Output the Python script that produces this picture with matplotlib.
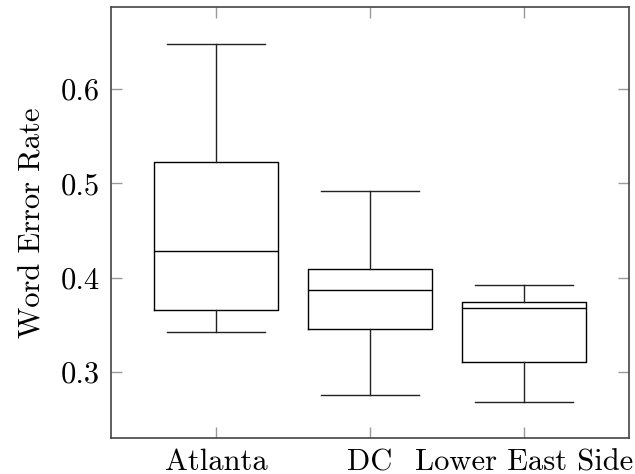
import matplotlib
matplotlib.use("Agg")
import matplotlib.pyplot as plt

plt.rcParams['font.family'] = ['cmr10', 'DejaVu Serif']
plt.rcParams['axes.formatter.use_mathtext'] = True
plt.rcParams['mathtext.fontset'] = 'cm'

categories = ["Atlanta", "DC", "Lower East Side"]
whisker_low = [0.342, 0.2755, 0.2684]
q1 = [0.366, 0.346, 0.3105]
median = [0.428, 0.3865, 0.368]
q3 = [0.523, 0.4095, 0.3738]
whisker_high = [0.648, 0.492, 0.3925]

stats = []
for i, name in enumerate(categories):
    stats.append(dict(label=name, whislo=whisker_low[i], q1=q1[i], med=median[i],
                      q3=q3[i], whishi=whisker_high[i], fliers=[]))

fig = plt.figure(figsize=(6.35, 4.74), dpi=100)
ax = fig.add_axes([0.1748, 0.0766, 0.9906 - 0.1748, 0.9852 - 0.0766])

lw = 1.0
ax.bxp(stats, positions=[1, 2, 3], widths=0.8, capwidths=0.64, showfliers=False,
       boxprops=dict(color='black', linewidth=lw),
       whiskerprops=dict(color='#222222', linewidth=lw),
       capprops=dict(color='#222222', linewidth=lw),
       medianprops=dict(color='black', linewidth=lw))

ax.set_xlim(0.318, 3.682)
ax.set_ylim(0.2302, 0.687)
ax.set_yticks([0.3, 0.4, 0.5, 0.6])
ax.set_yticklabels(["0.3", "0.4", "0.5", "0.6"])
ax.set_xticks([1, 2, 3])
ax.set_xticklabels(categories)

for s in ax.spines.values():
    s.set_color('#444444')
    s.set_linewidth(1.2)

ax.tick_params(axis='both', which='both', direction='in', top=True, right=True,
               length=8, width=1.0, color='#999999', labelsize=22, pad=8)
ax.set_ylabel("Word Error Rate", fontsize=22, labelpad=10)

fig.savefig("out.png", dpi=100)
